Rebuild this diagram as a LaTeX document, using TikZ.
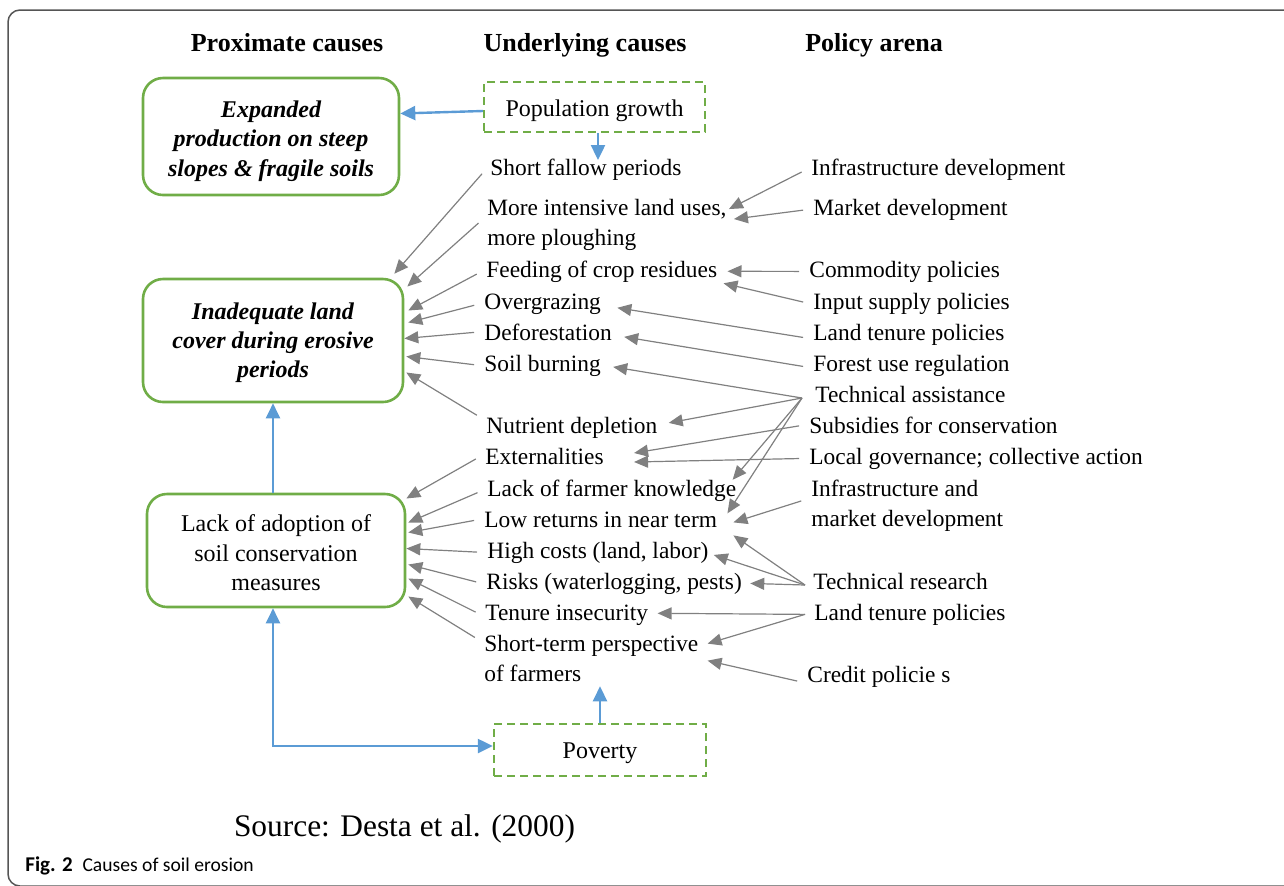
\documentclass[tikz,border=0pt]{standalone}
\usepackage{fontspec}
\setmainfont{Liberation Serif}
\newfontfamily\capfont{Carlito}
\usetikzlibrary{arrows.meta}
\usepackage{xcolor}
\definecolor{leafgreen}{RGB}{112,173,71}
\definecolor{skyblue}{RGB}{91,155,213}
\definecolor{arrowgray}{RGB}{128,128,128}
\definecolor{framegray}{RGB}{85,85,85}

\begin{document}
\begin{tikzpicture}[x=0.5pt, y=-0.5pt,
    font=\fontsize{11.7}{15}\selectfont,
    hdr/.style={anchor=base, font=\fontsize{13}{15}\selectfont\bfseries},
    causebox/.style={draw=leafgreen, line width=1.3pt, rounded corners=10pt, align=center, font=\fontsize{12}{14.7}\selectfont},
    proxbox/.style={causebox, font=\fontsize{12}{14.7}\selectfont\bfseries\itshape},
    underbox/.style={draw=leafgreen, line width=1.2pt, dash pattern=on 4pt off 2.5pt, font=\fontsize{12}{15}\selectfont},
    txt/.style={anchor=base west, inner sep=2pt},
    txttwo/.style={anchor=north west, inner sep=2pt, align=left},
    pline/.style={>={Triangle[length=7pt,width=6pt]}, color=arrowgray, line width=0.6pt, shorten <=3pt, every edge/.append style={->}},
    fan/.style={pline, shorten <=0pt},
    bline/.style={>={Triangle[length=7.5pt,width=7pt]}, ->, color=skyblue, line width=1.2pt}]
    \useasboundingbox (0,0) rectangle (1284,885);
    \draw[framegray, line width=0.75pt, rounded corners=6pt] (8,10) rectangle (1300,886);

    \draw (287,51) node[hdr] (hprox) {Proximate causes};
    \draw (585,51) node[hdr] (hund) {Underlying causes};
    \draw (874,51) node[hdr] (hpol) {Policy arena};

    % proximate causes
    \draw (271,136.5) node[proxbox, minimum width=128pt, minimum height=58.5pt] (exp) {\rule{0pt}{13pt}Expanded\\production on steep\\slopes \& fragile soils};
    \draw (273,340.5) node[proxbox, minimum width=130pt, minimum height=61.5pt] (inad) {\rule{0pt}{10.5pt}Inadequate land\\cover during erosive\\periods};
    \draw (276,550.5) node[causebox, minimum width=129pt, minimum height=56.5pt] (lack) {\rule{0pt}{11pt}Lack of adoption of\\soil conservation\\measures};

    % underlying causes
    \draw (594.5,107) node[underbox, minimum width=110.5pt, minimum height=25pt, text height=10.2pt, text depth=1pt] (pop) {Population growth};
    \draw (600,750) node[underbox, minimum width=106pt, minimum height=26pt, text height=11pt] (pov) {Poverty};

    \draw (486,175) node[txt] (sfp) {Short fallow periods};
    \draw (483,195) node[txttwo] (mil) {More intensive land uses,\\more ploughing};
    \draw (482,277) node[txt] (feed) {Feeding of crop residues};
    \draw (480,309) node[txt] (overg) {Overgrazing};
    \draw (480,340) node[txt] (defor) {Deforestation};
    \draw (480,371) node[txt] (burn) {Soil burning};
    \draw (482,433) node[txt] (nutr) {Nutrient depletion};
    \draw (481,464) node[txt] (ext) {Externalities};
    \draw (483,496) node[txt] (lfk) {Lack of farmer knowledge};
    \draw (480,527) node[txt] (lowr) {Low returns in near term};
    \draw (483,558) node[txt] (high) {High costs (land, labor)};
    \draw (482,589) node[txt] (risk) {Risks (waterlogging, pests)};
    \draw (481,620) node[txt] (tenure) {Tenure insecurity};
    \draw (480,631) node[txttwo] (short) {Short-term perspective\\of farmers};

    % policy arena
    \draw (807,175) node[txt] (infra) {Infrastructure development};
    \draw (809,215) node[txt] (market) {Market development};
    \draw (805,277) node[txt] (commod) {Commodity policies};
    \draw (809,309) node[txt] (input) {Input supply policies};
    \draw (809,340) node[txt] (tenpol) {Land tenure policies};
    \draw (809,371) node[txt] (forest) {Forest use regulation};
    \draw (811,402) node[txt] (techas) {Technical assistance};
    \draw (805,433) node[txt] (subs) {Subsidies for conservation};
    \draw (805,464) node[txt] (localgov) {Local governance; collective action};
    \draw (807,476) node[txttwo] (inframk) {Infrastructure and\\market development};
    \draw (809,589) node[txt] (techres) {Technical research};
    \draw (810,620) node[txt] (tenpol2) {Land tenure policies};
    \draw (803,682) node[txt] (credit) {Credit policie s};

    \draw (404.5,836) node[anchor=base, font=\fontsize{15.7}{18}\selectfont] (src) {Source: Desta et al. (2000)};
    \draw (25,871) node[anchor=base west, inner sep=0pt, font=\capfont\fontsize{9.8}{12}\selectfont] (figcap) {{\fontsize{10.5}{12}\selectfont\textbf{Fig. 2}}\enspace Causes of soil erosion};

    % underlying causes -> proximate causes
    \draw[pline] (sfp.west) edge ([xshift=-5pt,yshift=2pt]inad.north east)
        ([yshift=3pt]mil.west) edge ([xshift=1.5pt,yshift=27pt]inad.east)
        (feed.west) edge ([xshift=2pt,yshift=15pt]inad.east)
        (overg.west) edge ([xshift=2pt,yshift=9pt]inad.east)
        (defor.west) edge ([yshift=1pt]inad.east)
        (burn.west) edge ([xshift=1pt,yshift=-8pt]inad.east)
        ([yshift=4.5pt]nutr.west) edge ([xshift=1pt,yshift=-16pt]inad.east);
    \draw[pline] (ext.west) edge ([yshift=26pt]lack.east)
        (lfk.west) edge ([xshift=1pt,yshift=14pt]lack.east)
        (lowr.west) edge ([xshift=1pt,yshift=9pt]lack.east)
        (high.west) edge ([yshift=1pt]lack.east)
        (risk.west) edge ([xshift=1pt,yshift=-7pt]lack.east)
        (tenure.west) edge ([xshift=1pt,yshift=-14pt]lack.east)
        ([yshift=9pt]short.west) edge ([xshift=1pt,yshift=-23pt]lack.east);

    % policy arena -> underlying causes
    \draw[pline] (infra.west) edge ([xshift=-1pt,yshift=8pt]mil.east)
        (market.west) edge ([xshift=1.5pt,yshift=3pt]mil.east)
        (commod.west) edge ([xshift=3pt]feed.east)
        (input.west) edge ([xshift=1pt,yshift=-6pt]feed.east)
        ([yshift=-2pt]tenpol.west) edge ([xshift=6pt,yshift=-2pt]overg.east)
        ([yshift=-1pt]forest.west) edge ([xshift=4pt,yshift=-2.5pt]defor.east)
        (subs.west) edge ([xshift=13pt,yshift=1.5pt]ext.east)
        (localgov.west) edge ([xshift=13pt,yshift=-3pt]ext.east)
        ([yshift=3.5pt]inframk.west) edge ([xshift=6pt,yshift=-1.5pt]lowr.east)
        ([yshift=-3pt]credit.west) edge ([xshift=2.5pt,yshift=-1pt]short.east);
    \draw[fan] ([xshift=-4.5pt,yshift=-2pt]techas.west) edge ([xshift=4pt,yshift=-0.75pt]burn.east)
        edge ([xshift=3.5pt,yshift=2.25pt]nutr.east)
        edge ([xshift=-4pt,yshift=5.25pt]lfk.east)
        edge ([xshift=3pt,yshift=3pt]lowr.east);
    \draw[fan] ([xshift=-2pt,yshift=-2pt]techres.west) edge ([xshift=6pt,yshift=-8pt]lowr.east)
        edge ([xshift=0.5pt,yshift=-1.25pt]high.east)
        edge ([xshift=2pt]risk.east);
    \draw[fan] ([xshift=-2.5pt]tenpol2.west) edge ([xshift=2.5pt,yshift=0.75pt]tenure.east)
        edge ([xshift=2.5pt,yshift=7.5pt]short.east);

    % blue links
    \coordinate (fallow) at (598,160);
    \draw[bline] ([yshift=-2pt]pop.west) -- ([yshift=11.5pt]exp.east);
    \draw[bline] (pop.south -| fallow) -- (fallow);
    \draw[bline] (lack.north -| inad.south) -- (inad.south);
    \draw[bline, <->] ([xshift=-1.5pt]lack.south) |- ([yshift=2pt]pov.west);
    \draw[bline] (pov.north) -- (pov.north |- short.south);
\end{tikzpicture}
\end{document}
